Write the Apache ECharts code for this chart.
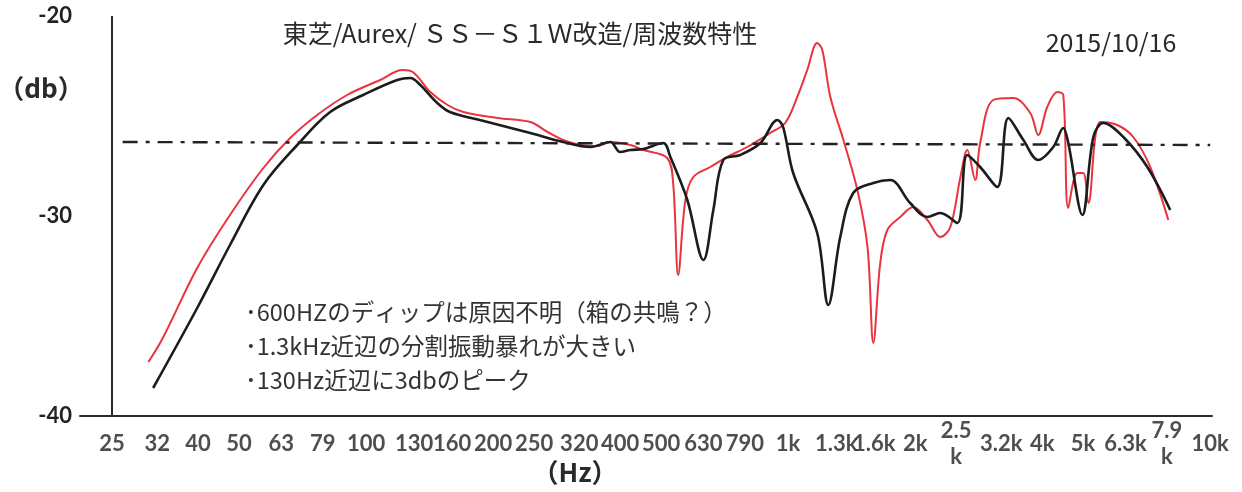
<!DOCTYPE html>
<html>
<head>
<meta charset="utf-8">
<script src="https://cdn.jsdelivr.net/npm/echarts@6/dist/echarts.min.js"></script>
<style>
  html, body { margin: 0; padding: 0; background: #ffffff; }
  #chart { width: 1242px; height: 492px; }
</style>
</head>
<body>
<div id="chart"></div>
<script>
// Frequency axis labels (Hz) and the text printed under each one
const tickFreqs = [25, 32, 40, 50, 63, 79, 100, 130, 160, 200, 250, 320, 400, 500, 630, 790,
  1000, 1300, 1600, 2000, 2500, 3200, 4000, 5000, 6300, 7900, 10000];
const tickLabels = ['25', '32', '40', '50', '63', '79', '100', '130', '160', '200', '250', '320',
  '400', '500', '630', '790', '1k', '1.3k', '1.6k', '2k', '2.5\nk', '3.2k', '4k', '5k', '6.3k',
  '7.9\nk', '10k'];

// Level axis ticks (dB)
const levelMin = -40;
const levelMax = -20;
const levelStep = 10;

// Response curve drawn in red: [frequency Hz, level dB]
const responseRed = [
  [30.5, -37.3], [33, -36.1], [39.8, -32.6], [47.6, -29.95], [57.1, -27.6], [66.1, -26.1],
  [76.6, -24.95], [90.2, -23.95], [108, -23.2], [122, -22.7], [129, -22.8], [142, -23.8],
  [156, -24.45], [170, -24.8], [205, -25.1], [245, -25.3], [269, -25.8], [293, -26.2],
  [322, -26.45], [353, -26.5], [379, -26.3], [423, -26.45], [454, -26.7], [517, -27.1],
  [534, -28.35], [549, -32.95], [571, -29.2], [596, -28.05], [654, -27.55], [717, -27.05],
  [800, -26.55], [907, -25.85], [984, -25.35], [1051, -24.05], [1110, -22.7], [1172, -21.35],
  [1205, -21.7], [1259, -24.05], [1352, -26.2], [1459, -28.7], [1542, -31.55], [1592, -36.35],
  [1653, -32.35], [1718, -30.7], [1844, -30.05], [1978, -29.55], [2138, -30.2], [2295, -31.05],
  [2423, -30.55], [2560, -28.05], [2657, -26.7], [2775, -28.2], [2851, -26.35], [3062, -24.2],
  [3413, -24.1], [3747, -24.85], [3914, -25.95], [4111, -24.55], [4345, -23.8], [4487, -23.95],
  [4611, -29.6], [4842, -27.85], [5003, -27.85], [5144, -29.35], [5491, -25.3], [6022, -25.45],
  [6573, -26.05], [7211, -27.55], [7958, -30.2]
];

// Response curve drawn in black: [frequency Hz, level dB]
const responseBlack = [
  [31.3, -38.6], [39.8, -34.6], [47.6, -31.45], [57.1, -28.45], [68.7, -26.45], [82.2, -24.8],
  [98.4, -23.95], [118.5, -23.2], [127.3, -23.1], [134.4, -23.45], [147.5, -24.35], [158, -24.8],
  [186, -25.2], [245, -25.85], [293, -26.3], [340, -26.55], [379, -26.3], [400, -26.8],
  [423, -26.7], [454, -26.65], [506, -26.35], [526, -27.05], [577, -29.2], [630, -32.2],
  [665, -29.7], [702, -27.2], [770, -26.95], [860, -26.35], [943, -25.2], [973, -25.55],
  [1028, -27.85], [1172, -30.85], [1245, -34.45], [1329, -31.05], [1426, -28.85], [1592, -28.35],
  [1746, -28.2], [1946, -29.35], [2138, -30.05], [2295, -29.85], [2517, -30.35], [2657, -26.95],
  [2851, -27.55], [3130, -28.55], [3326, -25.1], [3609, -26.2], [3914, -27.2], [4249, -26.55],
  [4487, -25.6], [4611, -26.35], [4980, -29.95], [5287, -26.05], [5582, -25.35], [6226, -26.05],
  [7096, -27.55], [8042, -29.7]
];

// Dash-dot reference level across the band
const flatLevel = [[26.5, -26.3], [10000, -26.45]];
// Frequency where the level axis line stands
const levelAxisFreq = 25;

const titleText = '東芝/Aurex/ ＳＳ－Ｓ１Ｗ改造/周波数特性';
const dateText = '2015/10/16';
const levelUnit = '（db）';
const freqUnit = '（Hz）';
const notes = [
  '･600HZのディップは原因不明（箱の共鳴？）',
  '･1.3kHz近辺の分割振動暴れが大きい',
  '･130Hz近辺に3dbのピーク'
];

const latin = 'Lato, "Noto Sans CJK JP", sans-serif';
const jp = '"Noto Sans CJK JP", "Noto Sans CJK SC", sans-serif';
const ink = '#222222';

const tickPoints = tickFreqs.map((f, i) => ({ value: [f, levelMin], name: tickLabels[i] }));

const chart = echarts.init(document.getElementById('chart'), null, { renderer: 'canvas' });

const option = {
  animation: false,
  backgroundColor: '#ffffff',
  grid: { left: 80, right: 30, top: 16, bottom: 76 },
  xAxis: {
    type: 'log',
    logBase: 10,
    min: 21,
    max: 10100,
    axisLine: { show: true, onZero: false, lineStyle: { color: '#2a2a2a', width: 2 } },
    axisTick: { show: false },
    axisLabel: { show: false },
    splitLine: { show: false },
    minorSplitLine: { show: false }
  },
  yAxis: {
    type: 'value',
    min: levelMin,
    max: levelMax,
    interval: levelStep,
    axisLine: { show: false },
    axisTick: { show: false },
    splitLine: { show: false },
    axisLabel: {
      fontFamily: latin, fontWeight: 'bold', fontSize: 22, color: ink, margin: 8,
      padding: [6, 0, 0, 0]
    }
  },
  series: [
    {
      name: 'red',
      type: 'line',
      data: responseRed,
      smooth: 0.35,
      showSymbol: false,
      symbol: 'none',
      lineStyle: { color: '#e8343f', width: 2 },
      emphasis: { disabled: true },
      z: 3
    },
    {
      name: 'black',
      type: 'line',
      data: responseBlack,
      smooth: 0.35,
      showSymbol: false,
      symbol: 'none',
      lineStyle: { color: '#1c1c1c', width: 2.6 },
      emphasis: { disabled: true },
      z: 4,
      markLine: {
        silent: true,
        symbol: 'none',
        label: { show: false },
        emphasis: { disabled: true },
        data: [
          [
            { coord: flatLevel[0], lineStyle: { color: '#222', width: 2.4, type: [15, 8, 4, 8] } },
            { coord: flatLevel[1] }
          ],
          { xAxis: levelAxisFreq, lineStyle: { color: '#2a2a2a', width: 2, type: 'solid' } }
        ]
      }
    },
    {
      name: 'ticks',
      type: 'scatter',
      data: tickPoints,
      symbolSize: 1,
      itemStyle: { color: 'rgba(0,0,0,0)' },
      clip: false,
      silent: true,
      z: 5,
      label: {
        show: true,
        formatter: '{b}',
        position: 'inside',
        offset: [0, 28],
        fontFamily: latin,
        fontWeight: 'bold',
        fontSize: 22,
        lineHeight: 26,
        color: ink,
        align: 'center'
      }
    }
  ],
  graphic: [
    {
      type: 'text', x: 520, y: 33, silent: true,
      style: { text: titleText, fill: '#2a2a2a', font: '25px ' + jp, align: 'center', verticalAlign: 'middle' }
    },
    {
      type: 'text', x: 1111, y: 42, silent: true,
      style: { text: dateText, fill: '#2a2a2a', font: '25px ' + jp, align: 'center', verticalAlign: 'middle' }
    },
    {
      type: 'text', x: 41, y: 88, silent: true,
      style: { text: levelUnit, fill: '#2a2a2a', font: 'bold 26px ' + jp, align: 'center', verticalAlign: 'middle' }
    },
    {
      type: 'text', x: 575, y: 472, silent: true,
      style: { text: freqUnit, fill: '#2a2a2a', font: 'bold 26px ' + jp, align: 'center', verticalAlign: 'middle' }
    },
    ...notes.map((t, i) => ({
      type: 'text', x: 245, y: 312 + i * 34, silent: true,
      style: { text: t, fill: '#333333', font: '23.5px ' + jp, align: 'left', verticalAlign: 'middle' }
    }))
  ]
};

chart.setOption(option);
</script>
</body>
</html>
